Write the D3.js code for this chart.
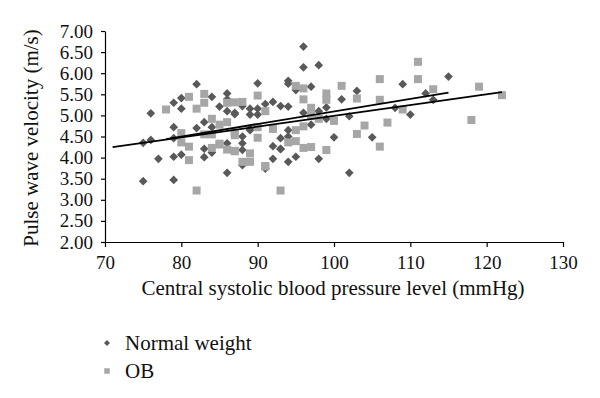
<!DOCTYPE html>
<html>
<head>
<meta charset="utf-8">
<script src="https://cdn.jsdelivr.net/npm/d3@7"></script>
<style>
  body { margin: 0; background: #fff; }
  svg text { font-family: "Liberation Serif", "Times New Roman", serif; fill: #111; }
</style>
</head>
<body>
<div id="chart"></div>
<script>
// Normal weight group: central SBP (mmHg) and PWV (m/s)
var normalSbp = [75, 76, 76, 75, 77, 79, 80, 80, 79, 79, 80, 79, 79, 82, 82, 83, 84, 83, 83, 84,
    85, 86, 86, 87, 86, 86, 84, 86, 87, 88, 88, 89, 89, 90, 89, 90, 90, 88, 96, 96,
    98, 94, 94, 95, 97, 103, 101, 91, 92, 93, 94, 96, 98, 99, 99, 102, 108, 89, 88, 92,
    93, 93, 94, 94, 97, 100, 105, 92, 95, 94, 98, 88, 91, 102, 109, 115, 112, 113, 110, 93];
var normalPwv = [4.35, 4.42, 5.05, 3.44, 3.97, 5.30, 5.41, 5.16, 4.72, 4.02, 4.07, 3.47, 4.46, 5.74, 4.70, 4.84, 5.44, 4.21, 4.01, 4.12,
    5.21, 5.52, 5.10, 5.03, 3.64, 4.34, 4.72, 5.38, 5.06, 4.50, 4.18, 4.68, 5.16, 5.02, 5.02, 5.76, 5.16, 5.22, 6.63, 6.14,
    6.19, 5.82, 5.75, 5.60, 5.68, 5.58, 5.38, 5.27, 5.32, 5.22, 5.21, 5.06, 5.10, 5.19, 4.92, 4.98, 5.18, 4.65, 4.34, 4.27,
    4.46, 4.21, 4.65, 4.50, 4.78, 4.48, 4.48, 3.97, 4.02, 3.90, 3.97, 3.82, 3.74, 3.64, 5.74, 5.92, 5.52, 5.37, 5.02, 4.20];

// OB group
var obSbp = [78, 81, 82, 83, 83, 80, 80, 81, 81, 82, 83, 84, 84, 85, 85, 86, 86, 87, 87, 87,
    86, 88, 88, 89, 87, 87, 89, 90, 90, 90, 91, 91, 92, 93, 94, 95, 95, 95, 96, 96,
    96, 96, 97, 97, 97, 98, 99, 99, 99, 100, 101, 103, 103, 104, 106, 106, 106, 107, 109, 111,
    111, 113, 118, 119, 122, 84, 85, 91];
var obPwv = [5.14, 5.44, 5.16, 5.51, 5.30, 4.58, 4.36, 4.26, 3.94, 3.22, 4.55, 4.92, 4.23, 4.31, 4.78, 4.84, 4.19, 4.16, 4.58, 5.31,
    5.30, 5.32, 3.90, 3.90, 4.53, 4.15, 4.10, 4.47, 5.47, 4.72, 3.80, 5.10, 4.68, 3.22, 4.36, 4.39, 4.65, 5.70, 5.64, 5.38,
    4.74, 4.23, 4.25, 5.18, 5.00, 4.92, 5.52, 5.37, 4.18, 4.87, 5.70, 5.40, 4.56, 4.76, 5.86, 5.37, 4.26, 4.83, 5.14, 6.27,
    5.86, 5.62, 4.89, 5.68, 5.48, 4.55, 4.33, 3.79];

// linear trend lines (start / end points)
var trendNormal = [[78, 4.44], [115, 5.54]];
var trendOb = [[71, 4.25], [122, 5.55]];

var yTicks = [2, 2.5, 3, 3.5, 4, 4.5, 5, 5.5, 6, 6.5, 7];
var xTicks = [70, 80, 90, 100, 110, 120, 130];
var legendLabels = ["Normal weight", "OB"];

var width = 600, height = 398;
var margin = { top: 31, left: 105, right: 37, bottom: 156 };

var svg = d3.select("#chart").append("svg")
    .attr("width", width)
    .attr("height", height);

var x = d3.scaleLinear().domain([70, 130]).range([margin.left, width - margin.right]);
var y = d3.scaleLinear().domain([2, 7]).range([height - margin.bottom, margin.top]);

// axes
var yAxis = svg.append("g")
    .attr("transform", "translate(" + margin.left + ",0)")
    .call(d3.axisLeft(y).tickValues(yTicks).tickFormat(d3.format(".2f")).tickSize(4).tickSizeOuter(0).tickPadding(8));

var xAxis = svg.append("g")
    .attr("transform", "translate(0," + (height - margin.bottom) + ")")
    .call(d3.axisBottom(x).tickValues(xTicks).tickSize(5).tickSizeOuter(0).tickPadding(9));

[yAxis, xAxis].forEach(function(ax) {
    ax.selectAll("path, line").attr("stroke", "#000").attr("stroke-width", 1.2);
    ax.selectAll("text").style("font-size", "19px").attr("fill", "#111");
});

// points
var diamond = d3.symbol().type(d3.symbolSquare).size(38);
var square = d3.symbol().type(d3.symbolSquare).size(64);

svg.append("g").selectAll("path")
    .data(normalSbp.map(function(d, i) { return [d, normalPwv[i]]; }))
    .enter().append("path")
    .attr("d", diamond)
    .attr("transform", function(d) { return "translate(" + x(d[0]) + "," + y(d[1]) + ") rotate(45)"; })
    .attr("fill", "#595959");

svg.append("g").selectAll("path")
    .data(obSbp.map(function(d, i) { return [d, obPwv[i]]; }))
    .enter().append("path")
    .attr("d", square)
    .attr("transform", function(d) { return "translate(" + x(d[0]) + "," + y(d[1]) + ")"; })
    .attr("fill", "#a6a6a6");

// trend lines
var line = d3.line().x(function(d) { return x(d[0]); }).y(function(d) { return y(d[1]); });
[trendNormal, trendOb].forEach(function(t) {
    svg.append("path")
        .attr("d", line(t))
        .attr("fill", "none")
        .attr("stroke", "#000")
        .attr("stroke-width", 1.8);
});

// axis titles
svg.append("text")
    .attr("x", 333)
    .attr("y", 295)
    .attr("text-anchor", "middle")
    .style("font-size", "21px")
    .text("Central systolic blood pressure level (mmHg)");

svg.append("text")
    .attr("transform", "translate(38," + 138 + ") rotate(-90)")
    .attr("text-anchor", "middle")
    .style("font-size", "21px")
    .text("Pulse wave velocity (m/s)");

// legend
var legend = svg.selectAll("g.legend")
    .data(legendLabels)
    .enter().append("g")
    .attr("class", "legend")
    .attr("transform", function(d, i) { return "translate(107," + (343 + i * 28) + ")"; });

legend.append("path")
    .attr("d", function(d, i) {
        return i === 0 ? d3.symbol().type(d3.symbolSquare).size(18)() : d3.symbol().type(d3.symbolSquare).size(30)();
    })
    .attr("transform", function(d, i) { return i === 0 ? "rotate(45)" : null; })
    .attr("fill", function(d, i) { return i === 0 ? "#595959" : "#a6a6a6"; });

legend.append("text")
    .attr("x", 18)
    .attr("y", 7)
    .style("font-size", "21px")
    .text(function(d) { return d; });
</script>
</body>
</html>
